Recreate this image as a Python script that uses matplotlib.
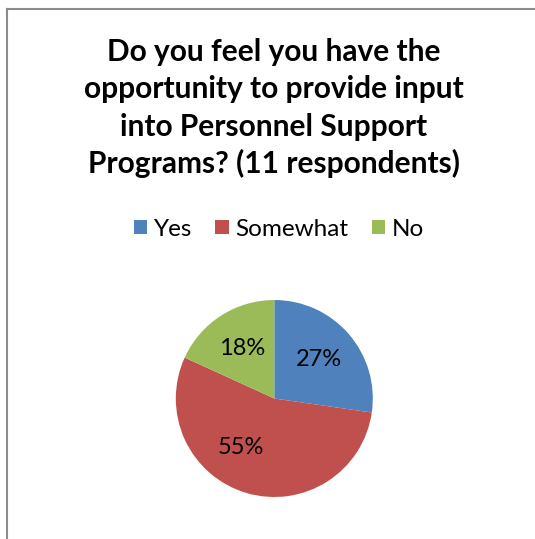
import matplotlib
matplotlib.use("Agg")
import matplotlib.pyplot as plt
import numpy as np
from matplotlib.patches import Rectangle
from matplotlib.lines import Line2D

categories = ["Yes", "Somewhat", "No"]
counts = [3, 6, 2]
colors = ["#4F81BD", "#C0504D", "#9BBB59"]
title_lines = ["Do you feel you have the",
               "opportunity to provide input",
               "into Personnel Support",
               "Programs? (11 respondents)"]

W, H = 535, 539
fig = plt.figure(figsize=(W / 100, H / 100), dpi=100)
fig.patch.set_facecolor("white")
FONT = "Lato"

# chart frame (left and top edges visible)
x0 = 6.5 / W
y0 = 1 - 8.5 / H
fig.add_artist(Line2D([x0, x0], [-0.05, y0], transform=fig.transFigure,
                      color="#8C8C8C", linewidth=1.5, solid_capstyle="projecting"))
fig.add_artist(Line2D([x0, 1.05], [y0, y0], transform=fig.transFigure,
                      color="#8C8C8C", linewidth=1.5, solid_capstyle="projecting"))

# title
for i, line in enumerate(title_lines):
    fig.text(274 / W, 1 - (52 + i * 37.3) / H, line, ha="center", va="center",
             fontsize=21.5, fontweight="bold", family=FONT, color="black")

# pie
cx, cy, r = 274.3, 398.5, 98.5
ax = fig.add_axes([(cx - r) / W, (H - cy - r) / H, 2 * r / W, 2 * r / H])
wedges, texts, autotexts = ax.pie(counts, colors=colors, startangle=90, counterclock=False,
                                  radius=1, autopct=lambda p: f"{p:.0f}%", pctdistance=0.6,
                                  wedgeprops=dict(edgecolor="none"),
                                  textprops=dict(fontsize=17, family=FONT, color="black"))
# Excel "best fit" placement of the 55% label
ang = np.deg2rad(236)
autotexts[1].set_position((0.6 * np.cos(ang), 0.6 * np.sin(ang)))
ax.set_xlim(-1, 1)
ax.set_ylim(-1, 1)
ax.set_aspect("equal")
ax.axis("off")

# legend
handles = [Rectangle((0, 0), 1, 1, facecolor=c, edgecolor="none") for c in colors]
fig.legend(handles, categories, loc="center", bbox_to_anchor=(279 / W, 1 - 229 / H),
           ncol=3, frameon=False, prop=dict(family=FONT, size=17.5),
           handlelength=0.55, handleheight=0.55, handletextpad=0.28, columnspacing=0.95)

fig.savefig("out.png", dpi=100)
